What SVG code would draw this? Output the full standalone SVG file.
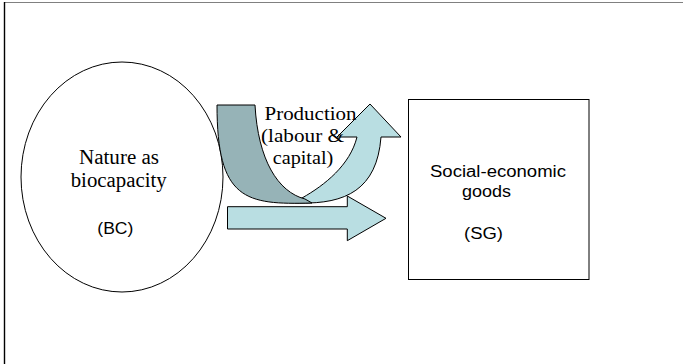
<svg xmlns="http://www.w3.org/2000/svg" width="683" height="364" viewBox="0 0 683 364">
  <style>
    .outline { stroke: #000; stroke-width: 1; }
    .node { fill: #fff; stroke: #000; stroke-width: 1; }
    .light { fill: #b9dee2; }
    .dark { fill: #96b3b7; }
    .serif { fill: #000; }
    .sans { font-size: 16px; fill: #000; }
  </style>

  <!-- page frame: top and left edges only -->
  <g id="frame">
    <line x1="4" y1="2.5" x2="683" y2="2.5" stroke="#808080" stroke-width="1.2"/>
    <line x1="4.5" y1="2" x2="4.5" y2="364" stroke="#000" stroke-width="1.4"/>
  </g>

  <!-- biocapacity -->
  <g id="node-bc">
    <ellipse class="node" cx="122" cy="177" rx="101" ry="115"/>
    <text class="serif" font-family="'Liberation Serif', 'Times New Roman', serif" font-size="20" x="79" y="163.5" textLength="80" lengthAdjust="spacingAndGlyphs">Nature as</text>
    <text class="serif" font-family="'Liberation Serif', 'Times New Roman', serif" font-size="20" x="70.7" y="187" textLength="96" lengthAdjust="spacingAndGlyphs">biocapacity</text>
    <text class="sans" font-family="'Liberation Sans', Arial, sans-serif" x="97.3" y="234" textLength="36" lengthAdjust="spacingAndGlyphs">(BC)</text>
  </g>

  <!-- social-economic goods -->
  <g id="node-sg">
    <rect class="node" x="408.5" y="99.5" width="180.5" height="180"/>
    <text class="sans" font-family="'Liberation Sans', Arial, sans-serif" x="430" y="177" textLength="136" lengthAdjust="spacingAndGlyphs">Social-economic</text>
    <text class="sans" font-family="'Liberation Sans', Arial, sans-serif" x="462" y="196.5" textLength="49" lengthAdjust="spacingAndGlyphs">goods</text>
    <text class="sans" font-family="'Liberation Sans', Arial, sans-serif" x="464" y="239" textLength="39" lengthAdjust="spacingAndGlyphs">(SG)</text>
  </g>

  <g id="connectors">
    <!-- straight block arrow BC -> SG -->
    <path class="light outline" d="M227.5,206.7 L347.3,206.7 L347.3,196 L386,218.3 L347.3,240.7 L347.3,229 L227.5,229 Z"/>
    <!-- curved up arrow: front face (light) -->
    <path class="light outline" d="M302,198 C325,185 350,165 357,137 L337,137 L370,104 L401,137 L381,137 C377,190 345,204 300,203 L290,202.5 Z"/>
    <!-- curved up arrow: back face (dark) -->
    <path class="dark outline" d="M217,105 L255,105 C258,160 278,192 305,199 L312,203 C245,205 217,200 217,105 Z"/>
  </g>

  <!-- production label -->
  <g id="node-production">
    <text class="serif" font-family="'Liberation Serif', 'Times New Roman', serif" font-size="18" x="264.5" y="119.5" textLength="92" lengthAdjust="spacingAndGlyphs">Production</text>
    <text class="serif" font-family="'Liberation Serif', 'Times New Roman', serif" font-size="18" x="261" y="142" textLength="83" lengthAdjust="spacingAndGlyphs">(labour &amp;</text>
    <text class="serif" font-family="'Liberation Serif', 'Times New Roman', serif" font-size="18" x="272.7" y="164" textLength="60.6" lengthAdjust="spacingAndGlyphs">capital)</text>
  </g>
</svg>
